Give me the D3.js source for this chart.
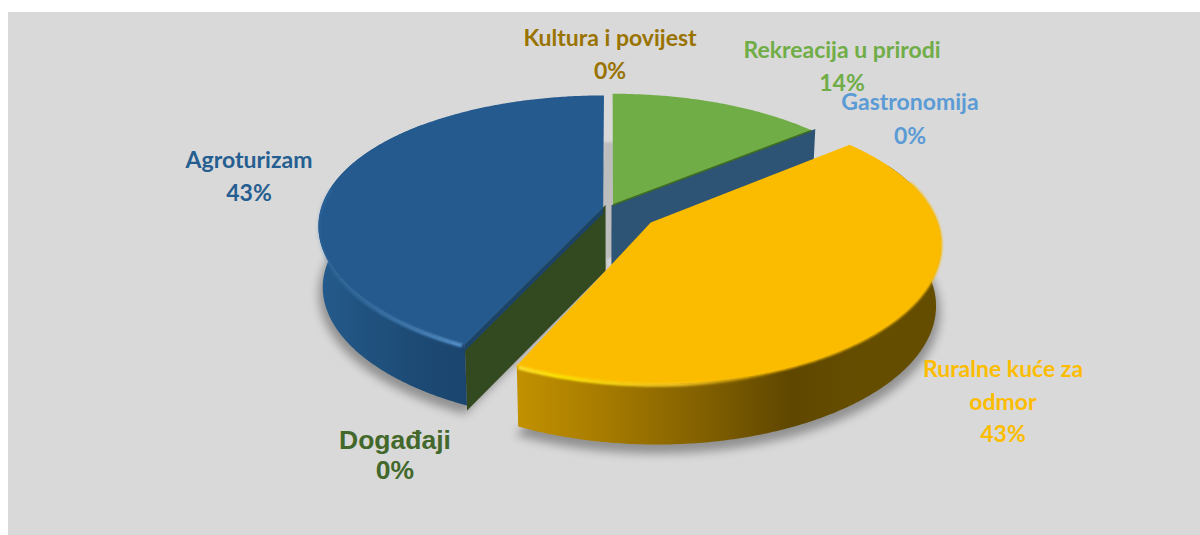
<!DOCTYPE html>
<html><head><meta charset="utf-8">
<script src="https://cdn.jsdelivr.net/npm/d3@7/dist/d3.min.js"></script>
<style>html,body{margin:0;background:#fff}svg{display:block}text{font-family:Lato,"Liberation Sans",sans-serif;font-weight:700}</style>
</head><body><svg id="c" width="1200" height="535"></svg>
<script>
const categories=["Rekreacija u prirodi","Gastronomija","Ruralne kuće za odmor","Događaji","Agroturizam","Kultura i povijest"];
const seriesValues=[14,0,43,0,43,0];
const topColors=["#70ad47","#2e5475","#fbbc00","#33491f","#255a8e","#997300"];
const labelColors=["#70ad47","#5b9bd5","#fcbd00","#43682b","#255e91","#997300"];
const explode=[0.025,0,0.18,0,0.025,0];
const labelLines=[["Rekreacija u prirodi","14%"],["Gastronomija","0%"],["Ruralne kuće za","odmor","43%"],["Događaji","0%"],["Agroturizam","43%"],["Kultura i povijest","0%"]];
const labelPos=[[842,58],[910,110],[1003,377],[395,449],[249,168],[610,46]];
const labelSize=[23,23,23,26.5,23,23];
const labelLead=[33,34,32.5,30,33,33];
const labelFont=["Lato","Lato","Lato","Liberation Sans","Lato","Lato"];

const W=1200,H=535,cx=610,cy=208,RX=282,RY=130,P=.14,PY=.16,DEPTH=61;
const svg=d3.select("#c");
const defs=svg.append("defs");
const blur=(id,s)=>defs.append("filter").attr("id",id).attr("x","-20%").attr("y","-20%").attr("width","140%").attr("height","140%").append("feGaussianBlur").attr("stdDeviation",s);
blur("b5",5);blur("b1",1.3);blur("b2",2);
const grad=(id,stops)=>{const g=defs.append("linearGradient").attr("id",id).attr("gradientUnits","userSpaceOnUse").attr("x1",cx-RX-30).attr("x2",cx+RX+50).attr("y1",0).attr("y2",0);
 stops.forEach(([x,c,o])=>g.append("stop").attr("offset",(x-(cx-RX-30))/(RX*2+80)).attr("stop-color",c).attr("stop-opacity",o==null?1:o));};
grad("sideBlue",[[318,"#245b8d"],[360,"#215380"],[410,"#1d4b76"],[470,"#1a446d"]]);
grad("sideYellow",[[510,"#c49300"],[600,"#a87c00"],[700,"#836100"],[790,"#5f4700"],[860,"#654d00"],[938,"#654d00"]]);
grad("hiBlue",[[318,"#3f7fbb",.15],[380,"#4b8ac6",.55],[465,"#5f9dd8",1]]);
grad("hiYellow",[[510,"#ffe23a",1],[560,"#ffe600",1],[680,"#ffd430",.7],[780,"#e0a800",.0],[940,"#e0a800",0]]);

svg.append("rect").attr("x",8).attr("y",12).attr("width",W-8).attr("height",H-12).attr("fill","#d9d9d9");

const arcs=d3.pie().sort(null).value(d=>d).startAngle(0).endAngle(2*Math.PI)(seriesValues);
const line=d3.line();
function proj(u,v,z){const k=1-.015*z;return [cx+RX*u*k/(1+P*v),cy-RY*v/(1+PY*v)+DEPTH*z];}
function offs(i){const a=arcs[i],m=(a.startAngle+a.endAngle)/2;return [explode[i]*Math.sin(m),explode[i]*Math.cos(m)];}
function pt(i,t,r,z){const[o,p]=offs(i);return proj(o+r*Math.sin(t),p+r*Math.cos(t),z);}
function rim(i,z,a0,a1,r){const a=arcs[i],s=a0==null?a.startAngle:a0,e=a1==null?a.endAngle:a1,n=Math.max(2,Math.ceil((e-s)/.01));return d3.range(n+1).map(k=>pt(i,s+(e-s)*k/n,r==null?1:r,z));}
const closed=p=>line(p)+"Z";
const g=svg.append("g");
const iG=0,iY=2,iB=4;

// floor shadow
[iB,iY].forEach(i=>g.append("path").attr("d",closed([pt(i,arcs[i].startAngle,0,1.1),...rim(i,1.1,null,null,1.015)])).attr("fill","#000").attr("opacity",.33).attr("filter","url(#b5)"));
// shaded gap between the slices
const ga=pt(iB,0,0,0),gb=pt(iG,0,0,0);
g.append("path").attr("d",closed([proj(offs(iB)[0],.55,0),proj(offs(iG)[0]+.01,.55,0),[gb[0]+2,gb[1]+52],[ga[0],ga[1]+52]])).attr("fill","#bdbdbd").attr("filter","url(#b1)");

// zero-value slices show only as the cut wall of their neighbour
function wall(owner,i,angle,r0,r1,z){
 g.append("path").attr("d",closed([pt(owner,angle,r0,0),pt(owner,angle,r1,0),pt(owner,angle,r1,z),pt(owner,angle,r0,z)])).attr("fill",topColors[i]);
}
const aGas=arcs[1].startAngle,aDog=arcs[3].startAngle;
// Green slice and its wall
wall(iG,1,aGas,0,1.02,1);
g.append("path").attr("d",line([pt(iG,0,0,0),pt(iG,0,0,1)])).attr("stroke",topColors[1]).attr("stroke-width",3).attr("fill","none");
g.append("path").attr("d",closed([pt(iG,0,0,0),...rim(iG,0)])).attr("fill",topColors[0]);
g.append("path").attr("d",line([pt(iG,aGas,0,0),pt(iG,aGas,1,0)])).attr("stroke","#3f6a24").attr("stroke-width",1.6).attr("fill","none");

// Blue slice: wall, side, top
wall(iB,3,aDog,-.02,1,1.08);
g.append("path").attr("d",closed([...rim(iB,0,aDog,Math.PI*1.75),...rim(iB,1,aDog,Math.PI*1.75).reverse()])).attr("fill","url(#sideBlue)");
wall(iB,4,aDog,0,1,0);
g.append("path").attr("d",closed([pt(iB,aDog,0,0),pt(iB,aDog,1,0),pt(iB,aDog,1,.1),pt(iB,aDog,0,.1)])).attr("fill","#1b4468");
g.append("path").attr("d",closed([pt(iB,0,0,0),...rim(iB,0)])).attr("fill",topColors[4]);
g.append("path").attr("d",line(rim(iB,.03,aDog+.01,Math.PI*1.55))).attr("stroke","url(#hiBlue)").attr("stroke-width",3.5).attr("fill","none").attr("filter","url(#b1)");

// Yellow slice: side, top
g.append("path").attr("d",closed([...rim(iY,0,Math.PI*.35,aDog),...rim(iY,1,Math.PI*.35,aDog).reverse()])).attr("fill","url(#sideYellow)");
g.append("path").attr("d",closed([pt(iY,0,0,0),...rim(iY,0)])).attr("fill",topColors[2]);
g.append("path").attr("d",line(rim(iY,.0,Math.PI*.4,aDog))).attr("stroke",topColors[2]).attr("stroke-width",2.5).attr("fill","none").attr("filter","url(#b1)");
g.append("path").attr("d",line(rim(iY,.025,Math.PI*.6,aDog-.005))).attr("stroke","url(#hiYellow)").attr("stroke-width",3.5).attr("fill","none").attr("filter","url(#b1)");

// labels
categories.forEach((c,i)=>{
 const t=svg.append("text").attr("text-anchor","middle").attr("fill",labelColors[i]).style("font-size",labelSize[i]+"px").style("font-family",labelFont[i]);
 labelLines[i].forEach((l,k)=>t.append("tspan").attr("x",labelPos[i][0]).attr("y",labelPos[i][1]+k*labelLead[i]).text(l));
});
</script></body></html>
